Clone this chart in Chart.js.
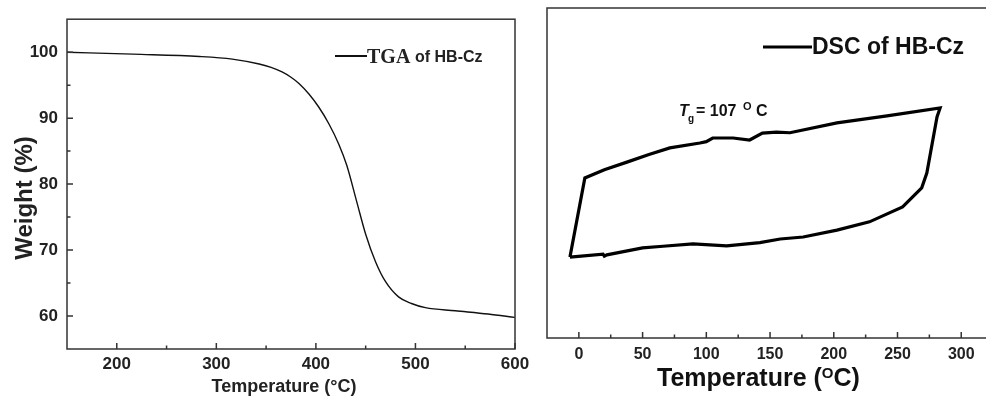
<!DOCTYPE html>
<html>
<head>
<meta charset="utf-8">
<script src="https://cdn.jsdelivr.net/npm/chart.js@4.4.0/dist/chart.umd.min.js"></script>
<style>
html, body { margin: 0; padding: 0; background: #fff; overflow: hidden; }
#wrap { position: relative; width: 986px; height: 399px; }
#tga { position: absolute; left: 0; top: 0; }
#dsc { position: absolute; left: 520px; top: 0; }
</style>
</head>
<body>
<div id="wrap">
  <canvas id="tga" width="545" height="399" style="width:545px;height:399px"></canvas>
  <canvas id="dsc" width="470" height="399" style="width:470px;height:399px"></canvas>
</div>
<script>
// TGA data (left panel)
var tgaTemp   = [150, 216, 283, 316, 343, 355, 366, 375, 383, 393, 403, 413, 423, 431, 441, 450, 460, 470, 483, 496, 510, 540, 573, 600];
var tgaWeight = [100, 99.7, 99.35, 98.95, 98.2, 97.7, 97.0, 96.2, 95.25, 93.65, 91.65, 89.15, 86.05, 82.85, 77.35, 72.4, 68.2, 65.2, 62.9, 61.9, 61.27, 60.8, 60.3, 59.8];
var tgaXTicks = [200, 300, 400, 500, 600];
var tgaXMinor = [250, 350, 450, 550];
var tgaYTicks = [60, 70, 80, 90, 100];
var tgaYMinor = [65, 75, 85, 95];

// DSC data (right panel), one closed heating/cooling loop, arbitrary heat flow units
var dscTemp   = [-7, 4.7, 20, 37.7, 55, 71.4, 95, 100, 105, 121, 134, 144, 155, 165.6, 202.5, 241.8, 283.4,
                 281, 273, 269, 254, 228, 202.5, 176, 158, 142, 116, 89.5, 66, 50, 22, 20, 19, -7];
var dscSignal = [24.5, 48.5, 51, 53.3, 55.6, 57.6, 59.1, 59.5, 60.6, 60.6, 60, 62.1, 62.4, 62.2, 65.2, 67.3, 69.7,
                 67, 50, 45.5, 39.7, 35.2, 32.7, 30.6, 30.0, 28.9, 27.9, 28.5, 27.8, 27.3, 25.2, 24.8, 25.4, 24.5];
var dscXTicks = [0, 50, 100, 150, 200, 250, 300];
var dscXMinor = [25, 75, 125, 175, 225, 275];

var SANS = '"Liberation Sans", Arial, sans-serif';
var SERIF = '"Liberation Serif", "Times New Roman", serif';

function pts(xs, ys) {
  return xs.map(function (x, i) { return { x: x, y: ys[i] } })
}

function setTicks(list) {
  return function (scale) {
    scale.ticks = list.map(function (v) { return { value: v } })
  }
}

// box + inward tick marks
function drawFrame(chart, xMajor, xMinor, yMajor, yMinor) {
  var a = chart.chartArea, ctx = chart.ctx
  var sx = chart.scales.x, sy = chart.scales.y
  ctx.save()
  ctx.strokeStyle = '#333'
  ctx.lineWidth = 1.5
  ctx.strokeRect(a.left, a.top, a.right - a.left, a.bottom - a.top)
  ctx.beginPath()
  xMajor.forEach(function (v) { var p = sx.getPixelForValue(v); ctx.moveTo(p, a.bottom); ctx.lineTo(p, a.bottom - 6) })
  xMinor.forEach(function (v) { var p = sx.getPixelForValue(v); ctx.moveTo(p, a.bottom); ctx.lineTo(p, a.bottom - 3.5) })
  yMajor.forEach(function (v) { var p = sy.getPixelForValue(v); ctx.moveTo(a.left, p); ctx.lineTo(a.left + 6, p) })
  yMinor.forEach(function (v) { var p = sy.getPixelForValue(v); ctx.moveTo(a.left, p); ctx.lineTo(a.left + 3.5, p) })
  ctx.stroke()
  ctx.restore()
}

//left chart --- TGA

new Chart(document.getElementById('tga'), {
  type: 'scatter',
  data: {
    datasets: [{
      label: 'TGA of HB-Cz',
      data: pts(tgaTemp, tgaWeight),
      showLine: true,
      borderColor: '#111',
      borderWidth: 1.4,
      pointRadius: 0,
      cubicInterpolationMode: 'monotone'
    }]
  },
  options: {
    responsive: false,
    animation: false,
    events: [],
    layout: { padding: { top: 15, right: 30, left: 0, bottom: 0 } },
    plugins: { legend: { display: false }, tooltip: { enabled: false } },
    scales: {
      x: {
        type: 'linear', min: 150, max: 600,
        afterBuildTicks: setTicks(tgaXTicks),
        afterFit: function (s) { s.height = 50 },
        grid: { display: false, drawTicks: false },
        border: { display: false },
        ticks: { padding: 5, color: '#222', font: { family: SANS, size: 17, weight: 'bold' } }
      },
      y: {
        min: 55, max: 105,
        afterBuildTicks: setTicks(tgaYTicks),
        afterFit: function (s) { s.width = 67 },
        grid: { display: false, drawTicks: false },
        border: { display: false },
        ticks: { padding: 9, color: '#222', font: { family: SANS, size: 17, weight: 'bold' } }
      }
    }
  },
  plugins: [{
    id: 'tgaDeco',
    afterDraw: function (chart) {
      drawFrame(chart, tgaXTicks, tgaXMinor, tgaYTicks, tgaYMinor)
      var ctx = chart.ctx
      ctx.save()
      ctx.fillStyle = '#222'
      ctx.textBaseline = 'middle'
      // y title
      ctx.save()
      ctx.translate(25, 198)
      ctx.rotate(-Math.PI / 2)
      ctx.textAlign = 'center'
      ctx.font = 'bold 24px ' + SANS
      ctx.fillText('Weight (%)', 0, 0)
      ctx.restore()
      // x title
      ctx.textAlign = 'center'
      ctx.font = 'bold 18px ' + SANS
      ctx.fillText('Temperature (°C)', 284, 387)
      // legend
      ctx.strokeStyle = '#111'
      ctx.lineWidth = 2
      ctx.beginPath(); ctx.moveTo(335, 56); ctx.lineTo(367, 56); ctx.stroke()
      ctx.textAlign = 'left'
      ctx.textBaseline = 'alphabetic'
      ctx.font = 'bold 20px ' + SERIF
      ctx.fillText('TGA', 367, 63)
      ctx.font = 'bold 16px ' + SANS
      ctx.fillText('of HB-Cz', 415, 62)
      ctx.restore()
    }
  }]
});

//right chart --- DSC

new Chart(document.getElementById('dsc'), {
  type: 'scatter',
  data: {
    datasets: [{
      label: 'DSC of HB-Cz',
      data: pts(dscTemp, dscSignal),
      showLine: true,
      borderColor: '#000',
      borderWidth: 3.2,
      pointRadius: 0,
      tension: 0
    }]
  },
  options: {
    responsive: false,
    animation: false,
    events: [],
    layout: { padding: { top: 8, right: 2, left: 0, bottom: 0 } },
    plugins: { legend: { display: false }, tooltip: { enabled: false } },
    scales: {
      x: {
        type: 'linear', min: -25, max: 321,
        afterBuildTicks: setTicks(dscXTicks),
        afterFit: function (s) { s.height = 61 },
        grid: { display: false, drawTicks: false },
        border: { display: false },
        ticks: { padding: 7, color: '#222', font: { family: SANS, size: 16, weight: 'bold' } }
      },
      y: {
        min: 0, max: 100,
        afterFit: function (s) { s.width = 27 },
        grid: { display: false, drawTicks: false },
        border: { display: false },
        ticks: { display: false }
      }
    }
  },
  plugins: [{
    id: 'dscDeco',
    afterDraw: function (chart) {
      drawFrame(chart, dscXTicks, dscXMinor, [], [])
      var ctx = chart.ctx
      ctx.save()
      ctx.fillStyle = '#111'
      ctx.textAlign = 'left'
      ctx.textBaseline = 'alphabetic'
      // x title with superscript O
      var x = 137
      ctx.font = 'bold 25px ' + SANS
      ctx.fillText('Temperature (', x, 386)
      x += ctx.measureText('Temperature (').width
      ctx.font = 'bold 15px ' + SANS
      ctx.fillText('O', x, 378)
      x += ctx.measureText('O').width
      ctx.font = 'bold 25px ' + SANS
      ctx.fillText('C)', x, 386)
      // legend
      ctx.strokeStyle = '#000'
      ctx.lineWidth = 3
      ctx.beginPath(); ctx.moveTo(243, 47); ctx.lineTo(292, 47); ctx.stroke()
      ctx.font = 'bold 23px ' + SANS
      ctx.fillText('DSC of HB-Cz', 292, 54)
      // Tg annotation
      ctx.font = 'italic bold 16px ' + SANS
      ctx.fillText('T', 159, 116)
      ctx.font = 'bold 10px ' + SANS
      ctx.fillText('g', 168, 122)
      ctx.font = 'bold 16px ' + SANS
      ctx.fillText('= 107', 176, 116)
      ctx.font = 'bold 11px ' + SANS
      ctx.fillText('O', 223, 110)
      ctx.font = 'bold 16px ' + SANS
      ctx.fillText('C', 236, 116)
      ctx.restore()
    }
  }]
});
</script>
</body>
</html>
